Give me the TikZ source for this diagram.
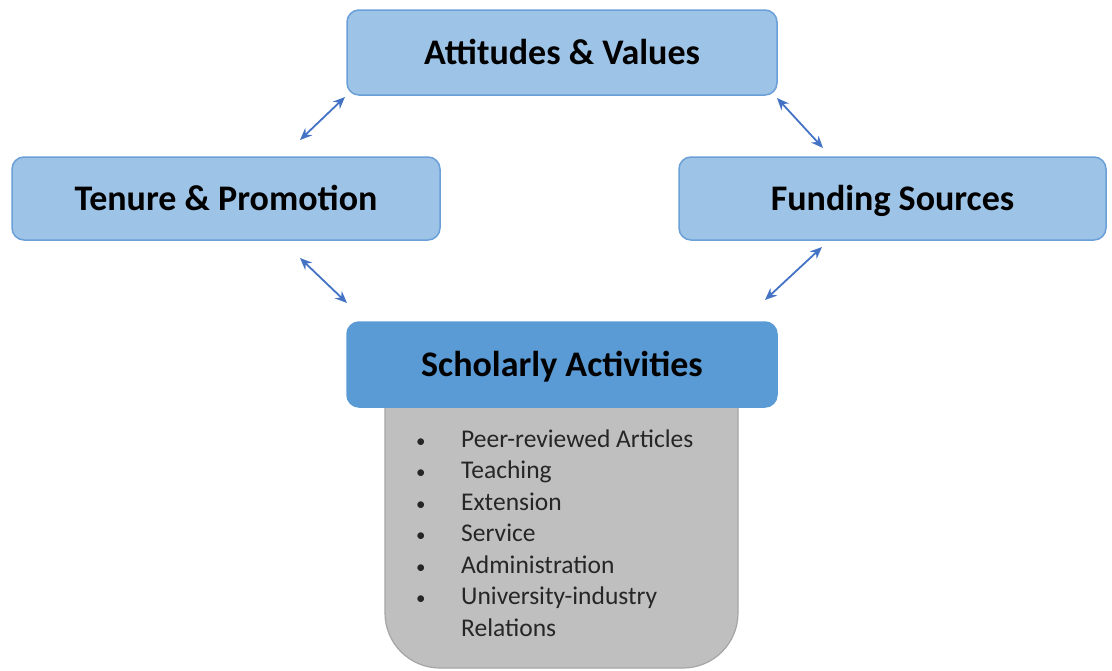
\documentclass[tikz,border=0pt]{standalone}
\usepackage{fontspec}
\setmainfont{Carlito}
\usetikzlibrary{arrows.meta}
\definecolor{lightblue}{HTML}{9DC3E6}
\definecolor{midblue}{HTML}{5B9BD5}
\definecolor{edgeblue}{HTML}{6A9FD8}
\definecolor{arrowblue}{HTML}{4472C4}
\definecolor{panelgray}{HTML}{BFBFBF}
\definecolor{paneledge}{HTML}{A5A5A5}
\definecolor{listtext}{HTML}{262626}
\newcommand{\dotitem}{\makebox[45pt][l]{{\fontsize{19}{19}\selectfont •}}}
\begin{document}
\begin{tikzpicture}[x=1pt,y=-1pt,
  topicbox/.style={draw=edgeblue, line width=1.5pt, fill=lightblue,
    rounded corners=12pt, inner sep=0pt, text height=23pt, text depth=0pt,
    font=\fontsize{36}{42}\selectfont\bfseries},
  mainbox/.style={topicbox, fill=midblue, draw=midblue},
  link/.style={arrowblue, line width=1.8pt,
    {Stealth[length=12pt,width=10pt]}-{Stealth[length=12pt,width=10pt]}}]
  \useasboundingbox (0,0) rectangle (1112,670);

  % panel listing the activities, partly tucked under the heading box
  \filldraw[fill=panelgray, draw=paneledge, line width=1.2pt, rounded corners=55pt]
    (385,380) -- (385,668) -- (738,668) -- (738,380);

  % the four boxes
  \node[topicbox, minimum width=430pt, minimum height=85pt] (att) at (562,52.5) {Attitudes \& Values};
  \node[topicbox, minimum width=428pt, minimum height=83pt] (ten) at (226,198.5) {Tenure \& Promotion};
  \node[topicbox, minimum width=427pt, minimum height=83pt] (fund) at (892.5,198.5) {Funding Sources};
  \node[mainbox, minimum width=430pt, minimum height=85pt] (schol) at (562,364.5) {Scholarly Activities};

  % list of activities
  \node[anchor=base west, inner sep=0pt, text=listtext] (list) at (416,447)
    {\fontsize{25.5}{31.5}\selectfont
     \begin{tabular}[t]{@{}l@{}l@{}}
       \dotitem & Peer-reviewed Articles\\
       \dotitem & Teaching\\
       \dotitem & Extension\\
       \dotitem & Service\\
       \dotitem & Administration\\
       \dotitem & University-industry\\
                & Relations
     \end{tabular}};

  % free ends of the two-headed arrows
  \coordinate (at1) at (345,97);   \coordinate (at2) at (300,140);
  \coordinate (af1) at (777,98);   \coordinate (af2) at (823,148);
  \coordinate (ts1) at (300,258);  \coordinate (ts2) at (347,303);
  \coordinate (fs1) at (822,247);  \coordinate (fs2) at (765,300);

  \draw[link] (at1) -- (at2);
  \draw[link] (af1) -- (af2);
  \draw[link] (ts1) -- (ts2);
  \draw[link] (fs1) -- (fs2);
\end{tikzpicture}
\end{document}
